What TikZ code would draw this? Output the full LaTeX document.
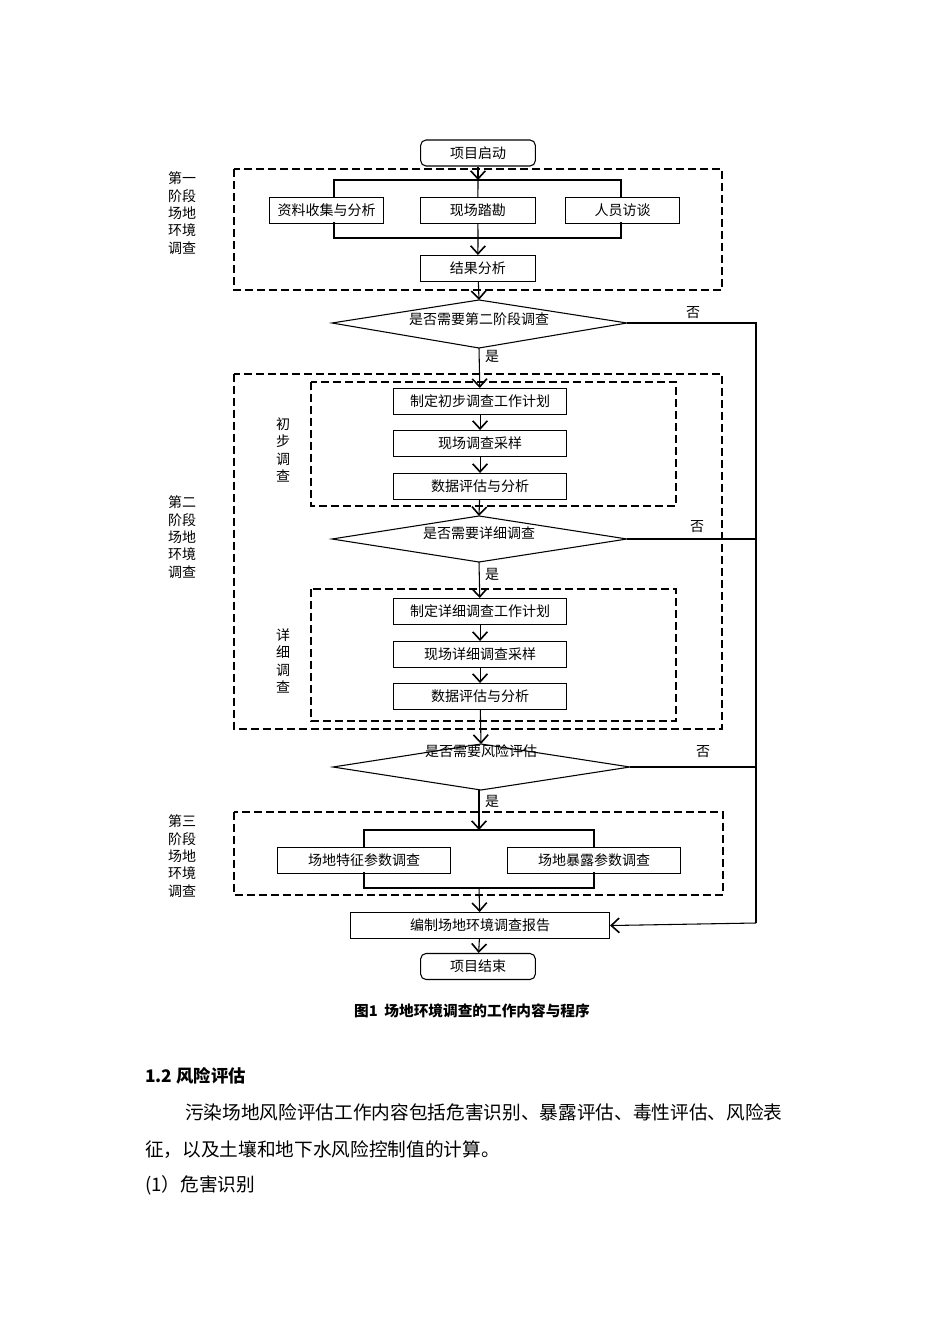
\documentclass[tikz,border=0pt]{standalone}
\usepackage{fontspec}
\setmainfont{Liberation Serif}
\newfontfamily\cjk{Noto Sans CJK SC}
\usetikzlibrary{arrows.meta}
\begin{document}
\begin{tikzpicture}[x=0.75pt,y=-0.75pt,
  every node/.style={font=\cjk\fontsize{10.5}{12}\selectfont, inner sep=0pt},
  bx/.style={draw, thick, minimum height=19.5pt, anchor=north west},
  rbx/.style={draw, thick, rounded corners=4pt, minimum width=86pt, minimum height=19.5pt},
  dbox/.style={draw, thick, dash pattern=on 6pt off 3pt},
  ln/.style={thick},
  ar/.style={thick, -{Straight Barb[length=6pt,width=11pt,line width=1.2pt]}},
  side/.style={align=center, font=\cjk\fontsize{10.5}{13}\selectfont}]
\useasboundingbox (0,0) rectangle (950,1344);
% stage 1
\node[rbx] (start) at (478,153) {项目启动};
\draw[dbox] (234,169) rectangle (722,290);
\node[side] (s1) at (182,213) {第一\\阶段\\场地\\环境\\调查};
\node[bx, minimum width=85.5pt] (a1) at (269,197) {资料收集与分析};
\node[bx, minimum width=86pt] (a2) at (420,197) {现场踏勘};
\node[bx, minimum width=85.5pt] (a3) at (565,197) {人员访谈};
\node[bx, minimum width=86pt] (r1) at (420,255) {结果分析};
\coordinate (t1) at (478,180);
\draw[ar] (start) -- (t1);
\draw[ln] (334,197) |- (621,180) -- (621,197);
\draw[ln] (t1) -- (a2);
\draw[ln] (334,222) |- (621,238) -- (621,222);
\draw[ln] (a2) -- (478,238);
\coordinate (b1) at (478,238);
\draw[ar] (b1) -- (r1);
% diamond 1
\coordinate (d1t) at (479,300);
\draw[thick] (332,323) -- (479,300) -- (627,323) -- (479,348) -- cycle;
\node (d1) at (479,319) {是否需要第二阶段调查};
\draw[ar] (r1) -- (d1t);
\node at (693,313) {否};
\node at (492,356) {是};
\coordinate (rl) at (756,323);
% stage 2
\draw[dbox] (234,374) rectangle (722,729);
\draw[dbox] (311,382) rectangle (676,506);
\draw[dbox] (311,589) rectangle (676,721);
\node[side] (s2) at (182,537) {第二\\阶段\\场地\\环境\\调查};
\node[side] (l1) at (283,450) {初\\步\\调\\查};
\node[side] (l2) at (283,661) {详\\细\\调\\查};
\node[bx, minimum width=129.75pt] (p1) at (393,388) {制定初步调查工作计划};
\node[bx, minimum width=129.75pt] (p2) at (393,430) {现场调查采样};
\node[bx, minimum width=129.75pt] (p3) at (393,473) {数据评估与分析};
\draw[ar] (479,348) -- (p1);
\draw[ar] (p1) -- (p2);
\draw[ar] (p2) -- (p3);
\coordinate (d2t) at (479,516);
\draw[thick] (332,539) -- (479,516) -- (627,539) -- (479,562) -- cycle;
\node (d2) at (479,533) {是否需要详细调查};
\draw[ar] (p3) -- (d2t);
\node at (697,527) {否};
\node at (492,574) {是};
\node[bx, minimum width=129.75pt] (q1) at (393,598) {制定详细调查工作计划};
\node[bx, minimum width=129.75pt] (q2) at (393,641) {现场详细调查采样};
\node[bx, minimum width=129.75pt] (q3) at (393,683) {数据评估与分析};
\draw[ar] (479,562) -- (q1);
\draw[ar] (q1) -- (q2);
\draw[ar] (q2) -- (q3);
% diamond 3
\coordinate (d3t) at (481,744);
\draw[thick] (333,767) -- (481,744) -- (630,767) -- (481,790) -- cycle;
\node (d3) at (481,751) {是否需要风险评估};
\draw[ar] (q3) -- (d3t);
\node at (703,752) {否};
\node at (492,801) {是};
% stage 3
\draw[dbox] (234,812) rectangle (723,895);
\node[side] (s3) at (182,856) {第三\\阶段\\场地\\环境\\调查};
\node[bx, minimum width=129.75pt] (c1) at (277,847) {场地特征参数调查};
\node[bx, minimum width=129.75pt] (c2) at (507,847) {场地暴露参数调查};
\coordinate (t3) at (479,830);
\draw[ar] (479,790) -- (t3);
\draw[ln] (364,847) |- (594,830) -- (594,847);
\draw[ln] (364,872) |- (594,888) -- (594,872);
\coordinate (b3) at (479,888);
\node[bx, minimum width=194.25pt] (rep) at (350,912) {编制场地环境调查报告};
\draw[ar] (b3) -- (rep);
\node[rbx] (end) at (478,966.5) {项目结束};
\draw[ar] (rep) -- (end);
% no branch
\draw[ln] (627,323) -- (rl) -- (756,923);
\draw[ln] (627,539) -- (756,539);
\draw[ln] (630,767) -- (756,767);
\draw[ar] (756,923) -- (rep.east);
% text
\node[font=\cjk\bfseries\fontsize{11}{13}\selectfont] (cap) at (472,1011) {图1\ \ 场地环境调查的工作内容与程序};
\node[anchor=west, font=\cjk\bfseries\fontsize{13}{15}\selectfont] (h) at (145,1076) {1.2 风险评估};
\node[anchor=west, font=\cjk\fontsize{14}{16}\selectfont] (t1x) at (185,1112) {污染场地风险评估工作内容包括危害识别、暴露评估、毒性评估、风险表};
\node[anchor=west, font=\cjk\fontsize{14}{16}\selectfont] (t2x) at (145,1150) {征，以及土壤和地下水风险控制值的计算。};
\node[anchor=west, font=\cjk\fontsize{14}{16}\selectfont] (t3x) at (145,1185) {(1）危害识别};
\end{tikzpicture}
\end{document}
